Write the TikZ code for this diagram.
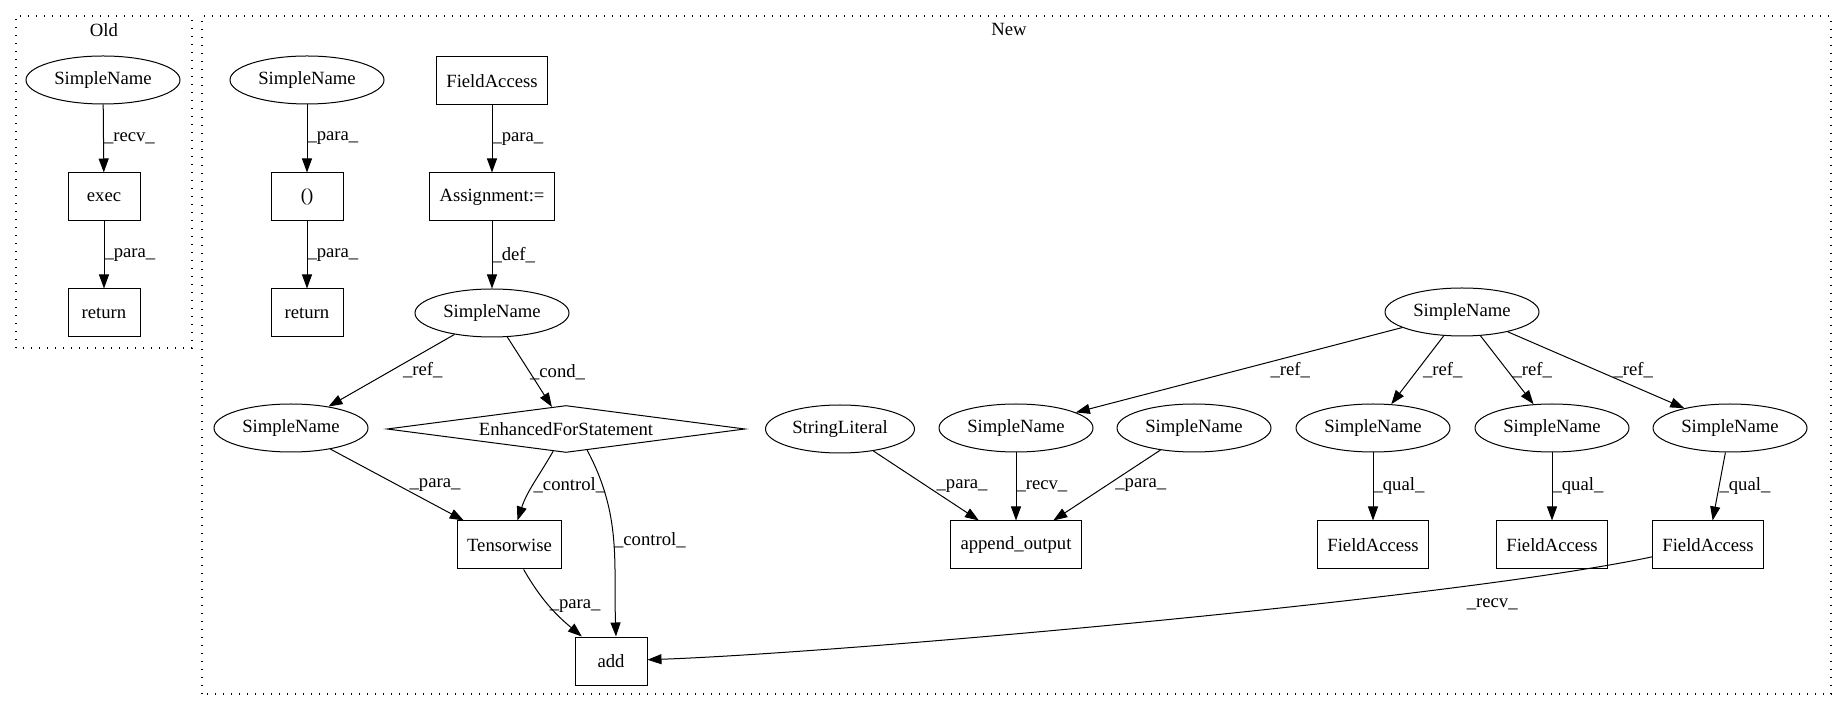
\documentclass[tikz,border=0pt]{standalone}
\usepackage{fontspec}
\setmainfont{Liberation Serif}
\usetikzlibrary{arrows.meta,shapes.geometric}

\begin{document}
\begin{tikzpicture}[x=1pt,y=1pt,
  every node/.style={font=\fontsize{18.67}{22}\selectfont},
  leaf/.style={draw,ellipse,line width=1pt,minimum width=154pt,minimum height=48pt,inner sep=0pt},
  stmt/.style={draw,rectangle,line width=1pt,minimum width=72pt,minimum height=48pt,inner xsep=10pt},
  loopnode/.style={draw,diamond,aspect=7.6,line width=1pt,minimum width=358pt,minimum height=47pt,inner sep=0pt},
  flow/.style={-{Triangle[length=14pt,width=10pt]},line width=1pt},
  lbl/.style={anchor=west,inner sep=0pt},
  clusterbox/.style={line width=1.3pt,dash pattern=on 1.4pt off 6.6pt}]
  \useasboundingbox (0,0) rectangle (1835,712);
  % clusters
  \draw[clusterbox] (16,364) rectangle (192,696);
  \node (oldtitle) at (104,682) {Old};
  \draw[clusterbox] (202,18) rectangle (1831,696);
  \node (newtitle) at (1009,683) {New};
  % old graph
  \node[leaf] (oldname) at (103,632) {SimpleName};
  \node[stmt] (oldexec) at (104,515) {exec};
  \node[stmt] (oldret) at (104,399) {return};
  % new graph, left part
  \node[leaf] (name1) at (307,632) {SimpleName};
  \node[stmt] (paren) at (307,515) {()};
  \node[stmt] (ret) at (307,399) {return};
  \node[stmt] (field0) at (492,631) {FieldAccess};
  \node[stmt] (assign) at (492,515) {Assignment:=};
  \node[leaf] (loopvar) at (492,399) {SimpleName};
  \node[leaf] (varref) at (291,284) {SimpleName};
  \node[loopnode] (efor) at (566,283) {EnhancedForStatement};
  \node[stmt] (tensor) at (509.5,167) {Tensorwise};
  \node[stmt] (add) at (611,51) {add};
  % new graph, right part
  \node[leaf,minimum width=149pt] (strlit) at (840,283) {StringLiteral};
  \node[leaf] (outrecv) at (1016,284) {SimpleName};
  \node[leaf] (outpara) at (1194,284) {SimpleName};
  \node[stmt] (append) at (1016,167) {append\_output};
  \node[leaf] (outvar) at (1462,400) {SimpleName};
  \node[leaf] (ref1) at (1373,284) {SimpleName};
  \node[leaf] (ref2) at (1552,284) {SimpleName};
  \node[leaf] (ref3) at (1730,284) {SimpleName};
  \node[stmt] (field1) at (1373,167) {FieldAccess};
  \node[stmt] (field2) at (1552,167) {FieldAccess};
  \node[stmt] (field3) at (1708,167) {FieldAccess};
  % old edges
  \draw[flow] (oldname) -- node[lbl] {\_recv\_} (oldexec);
  \draw[flow] (oldexec) -- node[lbl] {\_para\_} (oldret);
  % new edges
  \draw[flow] (name1) -- node[lbl] {\_para\_} (paren);
  \draw[flow] (paren) -- node[lbl] {\_para\_} (ret);
  \draw[flow] (field0) -- node[lbl] {\_para\_} (assign);
  \draw[flow] (assign) -- node[lbl] {\_def\_} (loopvar);
  \draw[flow] (loopvar) -- node[lbl,xshift=11pt] {\_ref\_} (varref);
  \draw[flow] (loopvar) -- node[lbl] {\_cond\_} (efor);
  \draw[flow] (varref) -- node[lbl,xshift=12pt] {\_para\_} (tensor);
  \draw[flow] (efor) to[out=-120,in=72] node[lbl] {\_control\_} (tensor);
  \draw[flow] (efor.-45) to[out=-62,in=92] node[lbl] {\_control\_} ([xshift=5pt]add.north);
  \draw[flow] (tensor) to[out=-60,in=140] node[lbl] {\_para\_} (add);
  \draw[flow] (strlit) -- node[lbl,xshift=10pt] {\_para\_} (append);
  \draw[flow] (outrecv) -- node[lbl] {\_recv\_} (append);
  \draw[flow] (outpara) -- node[lbl,xshift=8pt] {\_para\_} (append);
  \draw[flow] (outvar) -- node[lbl,xshift=31pt] {\_ref\_} (outrecv);
  \draw[flow] (outvar) -- node[lbl,xshift=5pt] {\_ref\_} (ref1);
  \draw[flow] (outvar) -- node[lbl,xshift=5pt] {\_ref\_} (ref2);
  \draw[flow] (outvar) -- node[lbl,xshift=17pt] {\_ref\_} (ref3);
  \draw[flow] (ref1) -- node[lbl] {\_qual\_} (field1);
  \draw[flow] (ref2) -- node[lbl] {\_qual\_} (field2);
  \draw[flow] (ref3) -- node[lbl] {\_qual\_} (field3);
  \draw[flow] (field3) to[out=192,in=2,looseness=0.5] node[pos=0.2,anchor=north,inner sep=2pt,yshift=-14pt] {\_recv\_} (add);
\end{tikzpicture}
\end{document}
